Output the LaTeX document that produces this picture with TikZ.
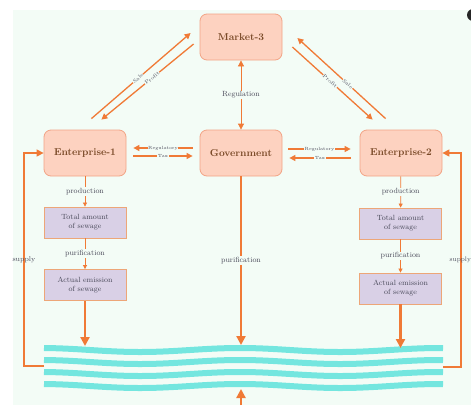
\documentclass[tikz,border=0pt]{standalone}
\usetikzlibrary{arrows.meta,calc}
\definecolor{bgmint}{HTML}{F3FCF6}
\definecolor{salm}{HTML}{FDD2C0}
\definecolor{salmdraw}{HTML}{F2A486}
\definecolor{lilac}{HTML}{D9D0E6}
\definecolor{lilacdraw}{HTML}{EDA678}
\definecolor{arr}{HTML}{F07A36}
\definecolor{boxtxt}{HTML}{7A4A28}
\definecolor{lbl}{HTML}{4A4A5A}
\definecolor{water}{HTML}{74E6DF}
\tikzset{
  entity/.style={draw=salmdraw, line width=0.8pt, fill=salm, rounded corners=7pt,
    minimum width=82pt, minimum height=46pt, inner sep=0pt,
    font=\fontsize{10}{12}\selectfont\bfseries, text=boxtxt},
  sewage/.style={draw=lilacdraw, line width=0.8pt, fill=lilac,
    minimum width=82pt, minimum height=31pt, inner sep=0pt, align=center,
    font=\fontsize{7.5}{9}\selectfont, text=lbl},
  smallarrow/.style={draw=arr, line width=0.7pt, -{Triangle[length=4pt,width=4pt]}},
  midarrow/.style={draw=arr, line width=1.3pt, -{Triangle[length=6pt,width=6pt]}},
  bigarrow/.style={draw=arr, line width=2.2pt, -{Triangle[length=9pt,width=9pt]}},
  supplyline/.style={draw=arr, line width=1.4pt, -{Triangle[length=7pt,width=7pt]}},
  lab/.style={font=\fontsize{7.5}{9}\selectfont, text=lbl, fill=bgmint, inner sep=1pt},
  tinylab/.style={font=\fontsize{4.5}{5}\selectfont, text=lbl, fill=bgmint, inner sep=0.5pt},
  slab/.style={font=\fontsize{5}{6}\selectfont, text=lbl, fill=bgmint, inner sep=0.3pt, sloped},
  waterline/.style={draw=water, line width=6pt}
}
\begin{document}
\begin{tikzpicture}[x=1pt,y=-1pt]
\useasboundingbox (0,0) rectangle (471,405);
\clip (0,0) rectangle (471,405);
\fill[white] (0,0) rectangle (471,405);
\fill[bgmint] (13,10) rectangle (471,405);
\fill[black!85] (473,15) circle (6pt);

% water
\foreach \yy in {350,362,374,386}
  \draw[waterline] plot[domain=44:443, samples=100, smooth] (\x, {\yy - 2*cos((\x-240)*1.8)});

% nodes
\node[entity] (m) at (241,37) {Market-3};
\node[entity] (g) at (241,153) {Government};
\node[entity] (e1) at (85,153) {Enterprise-1};
\node[entity] (e2) at (401,153) {Enterprise-2};
\node[sewage] (t1) at (85,222.5) {Total amount\\of sewage};
\node[sewage] (a1) at (85,285) {Actual emission\\of sewage};
\node[sewage] (t2) at (400.5,223.5) {Total amount\\of sewage};
\node[sewage] (a2) at (400.5,288.5) {Actual emission\\of sewage};

\coordinate (w1) at (85,346);
\coordinate (wg) at (241,345);
\coordinate (w2) at (400.5,348);
\coordinate (wb) at (241,405);
\coordinate (wbt) at (241,389);
\coordinate (wl) at (44,366);
\coordinate (wr) at (443,367);

% market links
\draw[midarrow] ($(e1.north east)+(-35,-11)$) -- node[slab, pos=0.47]{Sale} ($(m.west)+(-9,-4)$);
\draw[midarrow] ($(m.west)+(-6,7)$) -- node[slab, pos=0.45]{Profit} ($(e1.north east)+(-25,-10)$);
\draw[midarrow] ($(e2.north west)+(26,-11)$) -- node[slab, pos=0.43]{Sale} ($(m.east)+(15,1)$);
\draw[midarrow] ($(m.east)+(10,10)$) -- node[slab, pos=0.47]{Profit} ($(e2.north west)+(13,-10)$);
\draw[midarrow, {Triangle[length=6pt,width=6pt]}-{Triangle[length=6pt,width=6pt]}, line width=0.8pt]
  (m) -- node[lab]{Regulation} (g);

% government links
\draw[midarrow] ($(g.west)+(-7,-5)$) -- node[tinylab]{Regulatory} ($(e1.east)+(7,-5)$);
\draw[midarrow] ($(e1.east)+(7,3)$) -- node[tinylab]{Tax} ($(g.west)+(-7,3)$);
\draw[midarrow] ($(g.east)+(6,-4)$) -- node[tinylab]{Regulatory} ($(e2.west)+(-9,-4)$);
\draw[midarrow] ($(e2.west)+(-9,5)$) -- node[tinylab]{Tax} ($(g.east)+(7,5)$);

% production chains
\draw[smallarrow] (e1) -- node[lab]{production} (t1);
\draw[smallarrow] (t1) -- node[lab]{purification} (a1);
\draw[smallarrow] (e2) -- node[lab]{production} (t2);
\draw[smallarrow] (t2) -- node[lab]{purification} (a2);

% to water
\draw[bigarrow] (a1) -- (w1);
\draw[bigarrow] (a2) -- (w2);
\draw[bigarrow] (g) -- node[lab]{purification} (wg);
\draw[bigarrow] (wb) -- (wbt);

% supply
\draw[supplyline] (wl) -- ++(-20,0) |- (e1.west);
\draw[supplyline] (wr) -- ++(18,0) |- (e2.east);
\node[font=\fontsize{7}{8}\selectfont, text=lbl] (s1) at (24,260) {supply};
\node[font=\fontsize{6.5}{8}\selectfont, text=lbl, anchor=west, inner sep=0.5pt] (s2) at (449,260) {supply};
\end{tikzpicture}
\end{document}
